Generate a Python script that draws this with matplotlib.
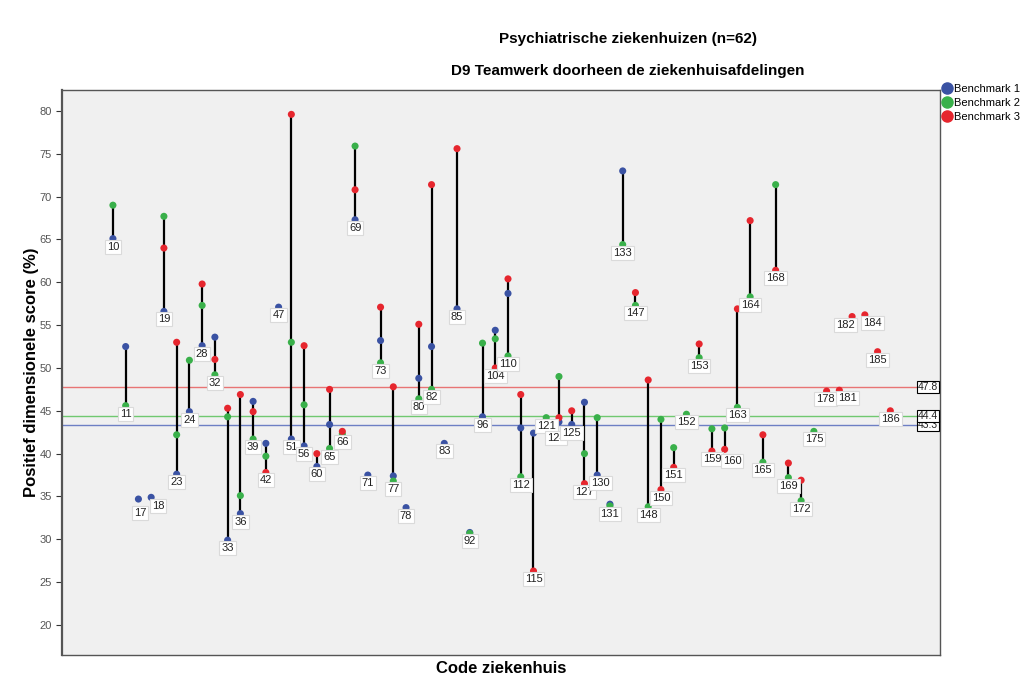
import numpy as np
import matplotlib
matplotlib.use("Agg")
import matplotlib.pyplot as plt
from matplotlib.lines import Line2D
import matplotlib.transforms as mtransforms

plt.rcParams["font.family"] = ["Liberation Sans", "DejaVu Sans"]

nan = np.nan

# codes ziekenhuizen en scores per benchmark
codes = [10, 11, 17, 18, 19, 23, 24, 28, 32, 33, 36, 39, 42, 47, 51, 56, 60, 65, 66, 69,
         71, 73, 77, 78, 80, 82, 83, 85, 92, 96, 104, 110, 112, 115, 121, 124, 125, 127,
         130, 131, 133, 147, 148, 150, 151, 152, 153, 159, 160, 163, 164, 165, 168, 169,
         172, 175, 178, 181, 182, 184, 185, 186]

bench1 = [65.1, 52.5, 34.7, 34.9, 56.6, 37.6, 44.9, 52.6, 53.6, 29.9, 33.0, 46.1, 41.2, 57.1,
          41.7, 40.9, 38.5, 43.4, nan, 67.3, 37.5, 53.2, 37.4, 33.7, 48.8, 52.5, 41.2, 56.9,
          30.8, 44.3, 54.4, 58.7, 43.0, 42.4, nan, 43.7, 43.4, 46.0, 37.5, 34.1, 73.0,
          nan, nan, nan, nan, nan, nan, nan, nan, nan, nan, nan, nan, nan, nan, nan,
          nan, nan, nan, nan, nan, nan]

bench2 = [69.0, 45.6, nan, nan, 67.7, 42.2, 50.9, 57.3, 49.2, 44.3, 35.1, 41.7, 39.7, nan,
          53.0, 45.7, nan, 40.6, 42.3, 75.9, nan, 50.6, 36.8, nan, 46.4, 47.5, nan, nan,
          30.7, 52.9, 53.4, 51.4, 37.3, nan, 44.2, 49.0, nan, 40.0, 44.2, 33.9, 64.4,
          57.3, 33.8, 44.0, 40.7, 44.6, 51.2, 42.9, 43.0, 45.4, 58.3, 39.0, 71.4, 37.2,
          34.5, 42.6, nan, nan, nan, nan, nan, nan]

bench3 = [nan, nan, nan, nan, 64.0, 53.0, nan, 59.8, 51.0, 45.3, 46.9, 44.9, 37.8, nan,
          79.6, 52.6, 40.0, 47.5, 42.6, 70.8, nan, 57.1, 47.8, nan, 55.1, 71.4, nan, 75.6,
          nan, nan, 50.0, 60.4, 46.9, 26.3, nan, 44.2, 45.0, 36.5, nan, nan, nan,
          58.8, 48.6, 35.8, 38.4, nan, 52.8, 40.3, 40.5, 56.9, 67.2, 42.2, 61.4, 38.9,
          36.9, nan, 47.3, 47.4, 56.0, 56.2, 51.9, 45.0]

ref_values = [43.3, 44.4, 47.8]
series_names = ["Benchmark 1", "Benchmark 2", "Benchmark 3"]
colors = ["#3a52a3", "#39b04a", "#e6262e"]
ref_colors = ["#6d7fc4", "#70c870", "#e87474"]

# labels die SPSS opzij schoof (dx, dy in pixels)
nudge = {17: (1.5, -6), 18: (7, -1), 124: (-3, -8), 130: (3, 0), 160: (7.5, -4),
         178: (-1, 0), 181: (8, 0), 182: (-6.5, 0), 184: (7.5, 0)}

fig = plt.figure(figsize=(10.24, 6.92), dpi=100)
ax = fig.add_axes([0.0605, 0.0535, 0.8575, 0.8165])
ax.set_facecolor("#f0f0f0")

x = np.arange(len(codes))
data = np.array([bench1, bench2, bench3])
lows = np.nanmin(data, axis=0)
highs = np.nanmax(data, axis=0)

# referentielijnen
for val, c in zip(ref_values, ref_colors):
    ax.axhline(val, color=c, lw=1, zorder=1)

# verticale lijnen tussen min en max
ax.vlines(x, lows, highs, color="black", lw=1.6, zorder=2)

for vals, c in zip(data, colors):
    ax.scatter(x, vals, s=26, color=c, edgecolors="none", zorder=3)

# labels onder het laagste punt (bedekken half het onderste punt)
for xi, lo, code in zip(x, lows, codes):
    dx, dy = nudge.get(code, (0, 0))
    ax.annotate(str(code), (xi, lo), xytext=(dx, -8 + dy), textcoords="offset pixels",
                ha="center", va="center", fontsize=8, color="#222222", zorder=4,
                bbox=dict(boxstyle="square,pad=0.18", fc="white", ec="#dadada", lw=0.8))

trans = mtransforms.blended_transform_factory(ax.transAxes, ax.transData)
for val in ref_values:
    ax.text(0.998, val, "%.1f" % val, transform=trans, ha="right", va="center",
            fontsize=7.5, color="#222222", zorder=5,
            bbox=dict(boxstyle="square,pad=0.08", fc="white", ec="black", lw=0.8))

ax.set_xlim(-4, 64.9)
ax.set_ylim(16.5, 82.45)
ax.set_yticks(np.arange(20, 81, 5))
ax.set_xticks([])
ax.tick_params(axis="y", labelsize=8, labelcolor="#555555", length=4, color="#333333")
for sp in ax.spines.values():
    sp.set_color("#555555")
    sp.set_linewidth(1.0)
ax.spines["left"].set_linewidth(1.6)

ax.set_ylabel("Positief dimensionele score (%)", fontsize=12, fontweight="bold", labelpad=0)
ax.set_xlabel("Code ziekenhuis", fontsize=12, fontweight="bold", labelpad=4)

fig.text(0.613, 0.943, "Psychiatrische ziekenhuizen (n=62)", ha="center", va="center",
         fontsize=11, fontweight="bold")
fig.text(0.613, 0.898, "D9 Teamwerk doorheen de ziekenhuisafdelingen", ha="center", va="center",
         fontsize=11, fontweight="bold")

handles = [Line2D([], [], marker="o", ls="none", color=c, markersize=8) for c in colors]
fig.legend(handles, series_names, loc="upper left", bbox_to_anchor=(0.914, 0.885),
           frameon=False, fontsize=8, handletextpad=0.0, labelspacing=0.35,
           borderaxespad=0, handlelength=1.2)

fig.savefig("out.png", dpi=100)
